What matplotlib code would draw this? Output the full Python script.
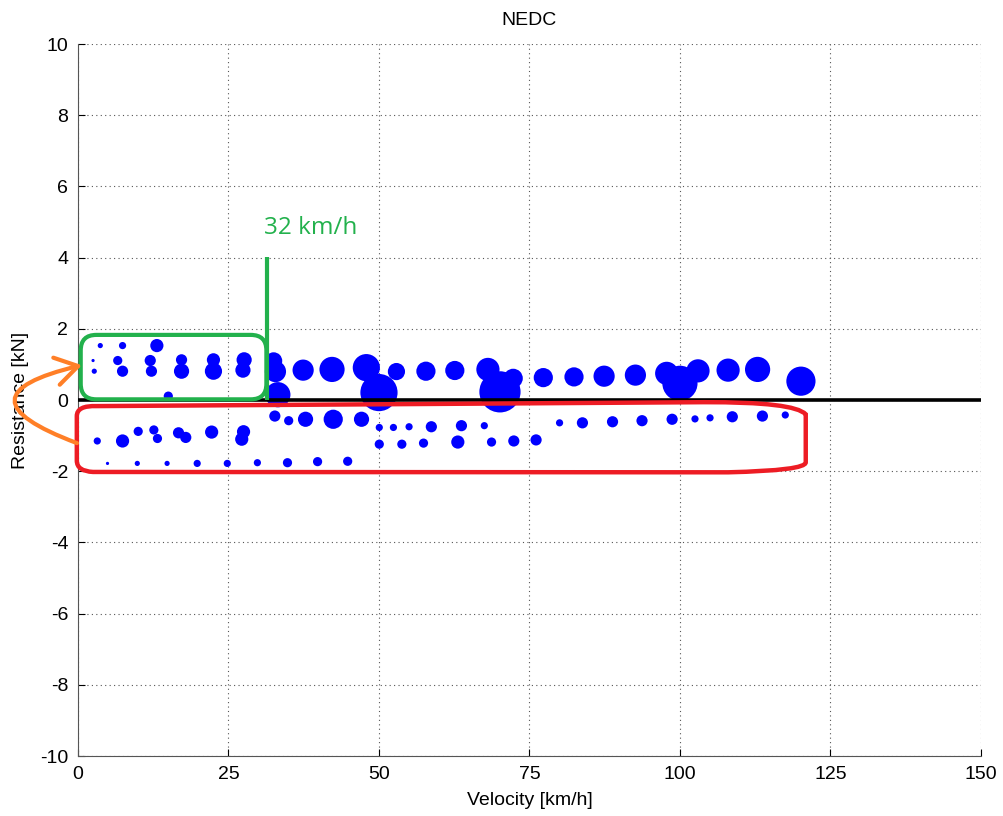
import matplotlib.pyplot as plt
import numpy as np
from matplotlib.patches import FancyBboxPatch, FancyArrowPatch, PathPatch
from matplotlib.path import Path

plt.rcParams['font.family'] = ['Liberation Sans', 'DejaVu Sans']
plt.rcParams['axes.unicode_minus'] = False

# Operating points of the NEDC: velocity, resistance and how often each occurs
velocity = [2.5, 2.7, 3.7, 6.6, 7.4, 7.4, 12.0, 12.2, 13.1, 15.0, 17.2, 17.2,
            22.5, 22.5, 27.6, 27.4, 32.5, 32.8, 33.2, 37.4, 42.2, 47.9, 50.0,
            52.9, 57.8, 62.6, 68.1, 70.1, 72.3, 77.3, 82.4, 87.4, 92.6, 97.8,
            100.0, 103.0, 108.0, 112.9, 120.1,
            3.2, 7.4, 10.0, 12.6, 13.2, 16.7, 17.9, 22.2, 27.5, 27.2, 32.7,
            35.0, 37.8, 42.4, 47.1, 50.05, 52.4, 55.0, 58.7, 63.7, 67.5, 80.0,
            83.8, 88.8, 93.7, 98.7, 102.5, 105.0, 108.7, 113.7, 117.5,
            50.05, 53.8, 57.4, 63.1, 68.7, 72.4, 76.1,
            4.9, 9.85, 14.8, 19.8, 24.8, 29.8, 34.8, 39.8, 44.8]
resistance = [1.11, 0.81, 1.53, 1.11, 0.81, 1.53, 1.11, 0.81, 1.53, 0.11, 1.13, 0.81,
              1.13, 0.81, 1.13, 0.84, 1.10, 0.80, 0.15, 0.84, 0.86, 0.91, 0.21,
              0.80, 0.81, 0.83, 0.86, 0.23, 0.61, 0.63, 0.65, 0.67, 0.70, 0.75,
              0.47, 0.82, 0.84, 0.86, 0.53,
              -1.15, -1.15, -0.88, -0.84, -1.08, -0.92, -1.05, -0.90, -0.89, -1.10, -0.45,
              -0.58, -0.54, -0.54, -0.54, -0.77, -0.77, -0.75, -0.75, -0.72, -0.72, -0.64,
              -0.64, -0.61, -0.58, -0.54, -0.53, -0.50, -0.47, -0.45, -0.42,
              -1.24, -1.24, -1.21, -1.18, -1.18, -1.15, -1.12,
              -1.78, -1.78, -1.78, -1.78, -1.78, -1.76, -1.76, -1.73, -1.72]
weight = [1, 2, 2, 4, 5, 3, 5, 5, 6, 4, 5, 7,
          6, 8, 7, 7, 8, 10, 12, 10, 12, 13, 18,
          8, 9, 9, 11, 20, 9, 9, 9, 10, 10, 11,
          17, 11, 11, 12, 14,
          3, 6, 4, 4, 4, 5, 5, 6, 6, 6, 5,
          4, 7, 9, 7, 3, 3, 3, 5, 5, 3, 3,
          5, 5, 5, 5, 3, 3, 5, 5, 3,
          4, 4, 4, 6, 4, 5, 5,
          1, 2, 2, 3, 3, 3, 4, 4, 4]

x_ticks = [0, 25, 50, 75, 100, 125, 150]
y_ticks = [-10, -8, -6, -4, -2, 0, 2, 4, 6, 8, 10]

fig = plt.figure(figsize=(10.04, 8.16), dpi=100)
ax = fig.add_axes([0.0777, 0.0735, 0.8993, 0.8725])

sizes = (1.44 * (np.array(weight) + 0.6)) ** 2
ax.scatter(velocity, resistance, s=sizes, color='#0000FF', edgecolors='none', zorder=3)

ax.axhline(0, color='black', lw=2.6, zorder=4)

ax.set_xlim(0, 150)
ax.set_ylim(-10, 10)
ax.set_xticks(x_ticks)
ax.set_yticks(y_ticks)
ax.tick_params(direction='in', labelsize=14, length=5, width=0.8)
ax.tick_params(axis='x', pad=7.5)
ax.tick_params(axis='y', pad=7)
ax.grid(True, linestyle=(0, (1, 3)), color='#555555', lw=0.8)
ax.spines['top'].set_visible(False)
ax.spines['right'].set_visible(False)
for s in ['left', 'bottom']:
    ax.spines[s].set_color('#555555')
ax.set_xlabel('Velocity [km/h]', fontsize=14, labelpad=6)
ax.set_ylabel('Resistance [kN]', fontsize=14, labelpad=8)
ax.set_title('NEDC', fontsize=14, pad=14)

# green box around the low-speed traction points and the 32 km/h marker
aspect = 6.02 / 35.6
green = '#22B14C'
ax.add_patch(FancyBboxPatch((0.45, 0.02), 30.85, 1.81,
                            boxstyle='round,pad=0,rounding_size=2.6',
                            mutation_aspect=aspect, fill=False,
                            ec=green, lw=3, zorder=5, clip_on=False))
ax.plot([31.4, 31.4], [0.0, 4.03], color=green, lw=3, zorder=5,
        solid_capstyle='butt')
ax.text(38.6, 4.82, '32 km/h', color=green, fontsize=17.5,
        family=['Open Sans', 'DejaVu Sans'], ha='center', va='center')

# red outline round the braking points
red_verts = [(3.1, -0.17), (104, -0.06), (119, -0.05), (120.9, -0.4),
             (120.9, -1.75), (120.9, -1.98), (108, -2.03), (2.5, -2.02),
             (-0.2, -2.0), (-0.2, -1.7), (-0.2, -0.45), (-0.2, -0.15),
             (3.1, -0.17)]
red_codes = [Path.MOVETO, Path.LINETO, Path.CURVE3, Path.CURVE3,
             Path.LINETO, Path.CURVE3, Path.CURVE3, Path.LINETO,
             Path.CURVE3, Path.CURVE3, Path.LINETO, Path.CURVE3, Path.CURVE3]
ax.add_patch(PathPatch(Path(red_verts, red_codes), fill=False,
                       ec='#ED1C24', lw=3.2, zorder=5, clip_on=False))

# orange arrow from the braking box to the traction box
arrow_path = Path([(-0.17, -1.21), (-21.0, 0.11), (0.66, 0.98)],
                  [Path.MOVETO, Path.CURVE3, Path.CURVE3])
ax.add_patch(FancyArrowPatch(path=arrow_path, arrowstyle='->,head_length=0.8,head_width=0.5',
                             mutation_scale=20, color='#FF7F27', lw=3,
                             zorder=6, clip_on=False))

fig.savefig('out.png', dpi=100)
